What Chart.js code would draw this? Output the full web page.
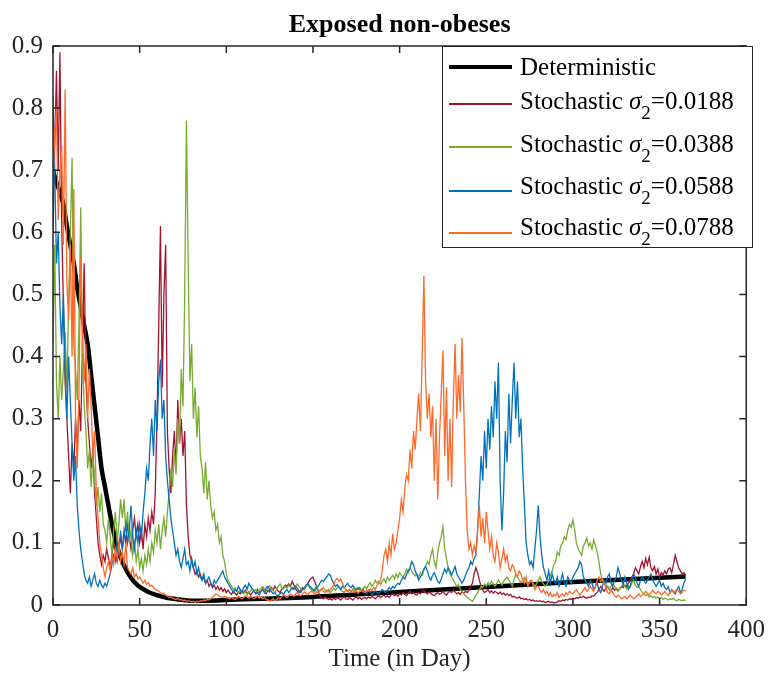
<!DOCTYPE html>
<html>
<head>
<meta charset="utf-8">
<script src="https://cdn.jsdelivr.net/npm/chart.js@4.4.1/dist/chart.umd.min.js"></script>
<style>
html,body{margin:0;padding:0;background:#fff;}
#wrap{position:relative;width:775px;height:676px;}
#c{position:absolute;left:0;top:0;}
#legend{position:absolute;left:442px;top:46px;width:309px;height:200px;border:1px solid #262626;background:#fff;font-family:"Liberation Serif","Times New Roman",serif;font-size:25px;color:#000;}
.sw{position:absolute;left:6px;width:63px;}
.lbl{position:absolute;left:77px;line-height:25px;white-space:nowrap;}
.sub{position:relative;top:10px;font-size:19px;}
</style>
</head>
<body>
<div id="wrap">
<canvas id="c" width="775" height="676"></canvas>
<div id="legend"></div>
</div>
<script>
// ---- data ----
const seriesNames = ["Deterministic", "Stochastic", "Stochastic", "Stochastic", "Stochastic"];
const sigmaValues = ["0.0188", "0.0388", "0.0588", "0.0788"];
const seriesColors = ["#000000", "#A2142F", "#77AC30", "#0072BD", "#FF6929"];

const xTicks = [0, 50, 100, 150, 200, 250, 300, 350, 400];
const yTicks = [0, 0.1, 0.2, 0.3, 0.4, 0.5, 0.6, 0.7, 0.8, 0.9];

// deterministic solution
const detDays = [0, 2, 4, 6, 8, 10, 12, 14, 16, 18, 20, 22, 24, 26, 28, 30, 32, 34, 36, 38, 40, 42, 44, 46, 48, 50, 55, 60, 65, 70, 75, 80, 90, 100, 150, 200, 250, 300, 365];
const detValues = [0.70, 0.68, 0.665, 0.645, 0.61, 0.58, 0.55, 0.51, 0.48, 0.45, 0.42, 0.37, 0.32, 0.27, 0.22, 0.19, 0.16, 0.13, 0.105, 0.085, 0.07, 0.058, 0.048, 0.04, 0.034, 0.029, 0.021, 0.016, 0.012, 0.010, 0.008, 0.007, 0.007, 0.008, 0.013, 0.021, 0.029, 0.037, 0.046];

// stochastic paths, one value per day (day 0..365)
const stochDays = Array.from({length: 366}, (_, i) => i);

const red = [
0.60, 0.74, 0.86, 0.70, 0.89, 0.62, 0.48, 0.36, 0.30, 0.24,
0.18, 0.26, 0.22, 0.30, 0.24, 0.33, 0.28, 0.42, 0.55, 0.36,
0.30, 0.26, 0.22, 0.25, 0.18, 0.14, 0.10, 0.08, 0.065, 0.08,
0.07, 0.09, 0.075, 0.06, 0.08, 0.10, 0.085, 0.07, 0.09, 0.11,
0.09, 0.12, 0.10, 0.13, 0.11, 0.09, 0.12, 0.14, 0.11, 0.13,
0.10, 0.12, 0.09, 0.13, 0.11, 0.14, 0.12, 0.15, 0.13, 0.18,
0.30, 0.45, 0.61, 0.35, 0.50, 0.58, 0.28, 0.22, 0.18, 0.24,
0.28, 0.22, 0.33, 0.26, 0.30, 0.24, 0.28, 0.16, 0.11, 0.08,
0.07, 0.06, 0.05, 0.055, 0.045, 0.05, 0.04, 0.045, 0.035, 0.04,
0.03, 0.035, 0.028, 0.032, 0.025, 0.03, 0.024, 0.028, 0.022, 0.026,
0.02, 0.024, 0.02, 0.017, 0.022, 0.019, 0.016, 0.021, 0.018, 0.023,
0.02, 0.024, 0.018, 0.021, 0.016, 0.02, 0.023, 0.018, 0.025, 0.02,
0.022, 0.026, 0.02, 0.018, 0.024, 0.021, 0.028, 0.024, 0.03, 0.026,
0.022, 0.02, 0.025, 0.028, 0.032, 0.03, 0.034, 0.03, 0.038, 0.032,
0.026, 0.022, 0.02, 0.024, 0.028, 0.025, 0.03, 0.034, 0.04, 0.043,
0.045, 0.038, 0.03, 0.022, 0.015, 0.012, 0.01, 0.013, 0.011, 0.009,
0.01, 0.008, 0.011, 0.009, 0.012, 0.01, 0.008, 0.011, 0.013, 0.01,
0.009, 0.012, 0.01, 0.008, 0.011, 0.013, 0.01, 0.012, 0.009, 0.011,
0.012, 0.01, 0.013, 0.011, 0.014, 0.012, 0.01, 0.013, 0.015, 0.012,
0.014, 0.016, 0.013, 0.015, 0.012, 0.016, 0.018, 0.015, 0.017, 0.014,
0.018, 0.016, 0.02, 0.017, 0.015, 0.019, 0.022, 0.018, 0.02, 0.017,
0.016, 0.02, 0.018, 0.022, 0.024, 0.02, 0.018, 0.021, 0.019, 0.016,
0.015, 0.018, 0.02, 0.017, 0.019, 0.022, 0.018, 0.016, 0.02, 0.022,
0.02, 0.024, 0.021, 0.018, 0.02, 0.017, 0.021, 0.019, 0.022, 0.02,
0.024, 0.03, 0.035, 0.05, 0.06, 0.052, 0.04, 0.03, 0.024, 0.02,
0.022, 0.025, 0.02, 0.023, 0.019, 0.022, 0.02, 0.018, 0.021, 0.017,
0.019, 0.016, 0.018, 0.015, 0.017, 0.013, 0.014, 0.012, 0.011, 0.013,
0.01, 0.011, 0.009, 0.01, 0.008, 0.009, 0.007, 0.008, 0.006, 0.007,
0.006, 0.007, 0.005, 0.006, 0.004, 0.005, 0.006, 0.004, 0.005, 0.003,
0.004, 0.005, 0.007, 0.006, 0.008, 0.007, 0.009, 0.008, 0.01, 0.009,
0.011, 0.01, 0.012, 0.011, 0.013, 0.012, 0.014, 0.012, 0.011, 0.013,
0.012, 0.015, 0.014, 0.018, 0.02, 0.025, 0.03, 0.026, 0.022, 0.027,
0.03, 0.025, 0.022, 0.028, 0.024, 0.027, 0.023, 0.026, 0.03, 0.028,
0.032, 0.03, 0.035, 0.04, 0.045, 0.05, 0.06, 0.055, 0.05, 0.062,
0.07, 0.06, 0.075, 0.065, 0.077, 0.06, 0.055, 0.062, 0.05, 0.058,
0.045, 0.052, 0.048, 0.055, 0.05, 0.058, 0.06, 0.052, 0.065, 0.08,
0.07, 0.06, 0.055, 0.05, 0.052, 0.048
];

const green = [
0.42, 0.58, 0.36, 0.30, 0.40, 0.33, 0.38, 0.44, 0.35, 0.48,
0.60, 0.72, 0.42, 0.38, 0.33, 0.46, 0.64, 0.40, 0.32, 0.28,
0.22, 0.25, 0.19, 0.24, 0.20, 0.16, 0.19, 0.15, 0.18, 0.13,
0.12, 0.10, 0.14, 0.11, 0.08, 0.12, 0.15, 0.10, 0.13, 0.17,
0.14, 0.17, 0.12, 0.15, 0.10, 0.12, 0.08, 0.10, 0.07, 0.09,
0.06, 0.075, 0.055, 0.08, 0.065, 0.09, 0.07, 0.10, 0.085, 0.12,
0.10, 0.13, 0.09, 0.12, 0.14, 0.11, 0.15, 0.18, 0.22, 0.19,
0.25, 0.21, 0.30, 0.26, 0.38, 0.32, 0.50, 0.78, 0.55, 0.36,
0.42, 0.30, 0.35, 0.27, 0.32, 0.24, 0.22, 0.18, 0.23, 0.17,
0.20, 0.16, 0.14, 0.15, 0.12, 0.13, 0.10, 0.11, 0.08, 0.07,
0.05, 0.04, 0.035, 0.03, 0.025, 0.028, 0.022, 0.02, 0.024, 0.021,
0.018, 0.022, 0.016, 0.02, 0.023, 0.026, 0.022, 0.025, 0.02, 0.024,
0.027, 0.03, 0.025, 0.022, 0.028, 0.031, 0.026, 0.024, 0.02, 0.025,
0.03, 0.034, 0.028, 0.026, 0.03, 0.027, 0.032, 0.029, 0.025, 0.028,
0.03, 0.034, 0.03, 0.027, 0.024, 0.026, 0.03, 0.033, 0.028, 0.025,
0.022, 0.026, 0.03, 0.025, 0.022, 0.026, 0.028, 0.024, 0.021, 0.025,
0.02, 0.023, 0.027, 0.024, 0.028, 0.03, 0.026, 0.022, 0.02, 0.024,
0.021, 0.025, 0.022, 0.026, 0.023, 0.027, 0.025, 0.028, 0.024, 0.027,
0.03, 0.026, 0.032, 0.036, 0.03, 0.034, 0.04, 0.035, 0.038, 0.033,
0.038, 0.042, 0.036, 0.045, 0.04, 0.044, 0.048, 0.042, 0.05, 0.044,
0.052, 0.048, 0.045, 0.05, 0.058, 0.052, 0.06, 0.054, 0.05, 0.047,
0.05, 0.045, 0.052, 0.048, 0.056, 0.062, 0.07, 0.065, 0.08, 0.09,
0.07, 0.06, 0.085, 0.10, 0.11, 0.126, 0.09, 0.075, 0.06, 0.05,
0.045, 0.04, 0.035, 0.03, 0.033, 0.025, 0.022, 0.018, 0.015, 0.012,
0.01, 0.008, 0.006, 0.01, 0.015, 0.02, 0.025, 0.03, 0.028, 0.034,
0.03, 0.036, 0.032, 0.038, 0.034, 0.03, 0.035, 0.04, 0.036, 0.032,
0.038, 0.042, 0.045, 0.04, 0.035, 0.03, 0.04, 0.05, 0.045, 0.04,
0.036, 0.04, 0.044, 0.038, 0.033, 0.036, 0.04, 0.035, 0.03, 0.034,
0.04, 0.045, 0.038, 0.034, 0.03, 0.033, 0.04, 0.048, 0.055, 0.065,
0.07, 0.085, 0.08, 0.095, 0.10, 0.11, 0.105, 0.12, 0.13, 0.125,
0.137, 0.12, 0.10, 0.09, 0.085, 0.08, 0.095, 0.10, 0.108, 0.095,
0.10, 0.09, 0.105, 0.095, 0.085, 0.07, 0.05, 0.04, 0.035, 0.032,
0.03, 0.026, 0.03, 0.035, 0.03, 0.025, 0.022, 0.027, 0.03, 0.034,
0.03, 0.026, 0.032, 0.028, 0.035, 0.04, 0.032, 0.028, 0.03, 0.025,
0.02, 0.018, 0.015, 0.017, 0.013, 0.015, 0.012, 0.014, 0.011, 0.013,
0.01, 0.012, 0.009, 0.011, 0.01, 0.008, 0.01, 0.009, 0.011, 0.008,
0.007, 0.009, 0.008, 0.007, 0.008, 0.007
];

const blue = [
0.82, 0.70, 0.55, 0.60, 0.48, 0.42, 0.50, 0.38, 0.30, 0.40,
0.33, 0.26, 0.20, 0.24, 0.16, 0.12, 0.09, 0.07, 0.05, 0.04,
0.035, 0.045, 0.03, 0.04, 0.05, 0.035, 0.03, 0.04, 0.032, 0.028,
0.035, 0.03, 0.04, 0.05, 0.065, 0.08, 0.07, 0.10, 0.085, 0.12,
0.09, 0.11, 0.13, 0.10, 0.12, 0.16, 0.11, 0.09, 0.12, 0.10,
0.13, 0.11, 0.15, 0.18, 0.22, 0.20, 0.26, 0.30, 0.24, 0.33,
0.28, 0.36, 0.395, 0.30, 0.33, 0.24, 0.20, 0.17, 0.14, 0.12,
0.10, 0.08, 0.09, 0.07, 0.06, 0.075, 0.09, 0.065, 0.07, 0.055,
0.075, 0.06, 0.07, 0.05, 0.06, 0.045, 0.04, 0.05, 0.035, 0.04,
0.045, 0.035, 0.03, 0.04, 0.035, 0.04, 0.045, 0.05, 0.055, 0.045,
0.04, 0.035, 0.03, 0.025, 0.02, 0.025, 0.022, 0.03, 0.025, 0.02,
0.028, 0.032, 0.025, 0.035, 0.03, 0.026, 0.022, 0.018, 0.02, 0.016,
0.022, 0.025, 0.02, 0.028, 0.03, 0.025, 0.022, 0.018, 0.02, 0.016,
0.015, 0.018, 0.02, 0.017, 0.022, 0.025, 0.02, 0.024, 0.028, 0.025,
0.03, 0.027, 0.022, 0.02, 0.025, 0.028, 0.032, 0.035, 0.03, 0.028,
0.025, 0.022, 0.028, 0.03, 0.035, 0.04, 0.038, 0.042, 0.045, 0.05,
0.048, 0.04, 0.035, 0.03, 0.033, 0.028, 0.025, 0.03, 0.027, 0.032,
0.035, 0.03, 0.028, 0.032, 0.027, 0.024, 0.028, 0.025, 0.022, 0.025,
0.02, 0.018, 0.024, 0.02, 0.017, 0.02, 0.023, 0.02, 0.018, 0.022,
0.025, 0.022, 0.02, 0.024, 0.028, 0.025, 0.03, 0.027, 0.032, 0.035,
0.033, 0.04, 0.045, 0.042, 0.05, 0.055, 0.06, 0.07, 0.065, 0.055,
0.048, 0.04, 0.045, 0.05, 0.058, 0.062, 0.055, 0.045, 0.04, 0.048,
0.052, 0.045, 0.038, 0.035, 0.042, 0.05, 0.058, 0.052, 0.06, 0.055,
0.048, 0.055, 0.062, 0.05, 0.045, 0.04, 0.035, 0.04, 0.048, 0.055,
0.06, 0.07, 0.065, 0.075, 0.08, 0.12, 0.18, 0.24, 0.20, 0.28,
0.22, 0.30, 0.25, 0.32, 0.27, 0.36, 0.30, 0.39, 0.20, 0.12,
0.18, 0.28, 0.23, 0.34, 0.26, 0.33, 0.39, 0.30, 0.36, 0.27,
0.30, 0.22, 0.16, 0.10, 0.08, 0.065, 0.07, 0.06, 0.09, 0.12,
0.16, 0.11, 0.08, 0.06, 0.05, 0.04, 0.055, 0.035, 0.05, 0.04,
0.035, 0.045, 0.03, 0.04, 0.05, 0.035, 0.03, 0.045, 0.04, 0.035,
0.045, 0.05, 0.055, 0.06, 0.07, 0.065, 0.045, 0.04, 0.035, 0.03,
0.04, 0.035, 0.025, 0.03, 0.035, 0.025, 0.02, 0.03, 0.04, 0.035,
0.045, 0.05, 0.035, 0.03, 0.04, 0.045, 0.06, 0.05, 0.04, 0.032,
0.045, 0.035, 0.025, 0.03, 0.04, 0.05, 0.045, 0.035, 0.03, 0.04,
0.045, 0.04, 0.035, 0.04, 0.045, 0.05, 0.04, 0.035, 0.03, 0.035,
0.04, 0.03, 0.035, 0.028, 0.025, 0.03, 0.02, 0.025, 0.022, 0.018,
0.025, 0.03, 0.02, 0.025, 0.035, 0.042
];

const orange = [
0.68, 0.76, 0.80, 0.62, 0.70, 0.74, 0.58, 0.83, 0.52, 0.46,
0.58, 0.40, 0.67, 0.30, 0.22, 0.35, 0.56, 0.44, 0.36, 0.42,
0.30, 0.38, 0.32, 0.24, 0.28, 0.18, 0.14, 0.10, 0.08, 0.06,
0.045, 0.06, 0.07, 0.055, 0.08, 0.065, 0.09, 0.075, 0.10, 0.07,
0.085, 0.065, 0.10, 0.06, 0.055, 0.05, 0.06, 0.045, 0.05, 0.042,
0.045, 0.04, 0.035, 0.04, 0.033, 0.036, 0.03, 0.032, 0.028, 0.025,
0.024, 0.022, 0.02, 0.018, 0.019, 0.016, 0.014, 0.012, 0.013, 0.011,
0.01, 0.009, 0.011, 0.008, 0.009, 0.007, 0.008, 0.006, 0.007, 0.006,
0.005, 0.006, 0.004, 0.006, 0.005, 0.007, 0.006, 0.008, 0.007, 0.009,
0.008, 0.01, 0.012, 0.015, 0.018, 0.016, 0.014, 0.013, 0.012, 0.014,
0.013, 0.011, 0.01, 0.012, 0.01, 0.009, 0.011, 0.014, 0.012, 0.01,
0.012, 0.015, 0.013, 0.011, 0.014, 0.012, 0.01, 0.012, 0.015, 0.011,
0.013, 0.01, 0.012, 0.009, 0.008, 0.006, 0.008, 0.01, 0.007, 0.009,
0.012, 0.01, 0.013, 0.016, 0.014, 0.012, 0.015, 0.018, 0.016, 0.014,
0.018, 0.02, 0.017, 0.015, 0.018, 0.021, 0.019, 0.016, 0.02, 0.022,
0.02, 0.018, 0.021, 0.019, 0.023, 0.026, 0.022, 0.02, 0.024, 0.021,
0.025, 0.028, 0.032, 0.04, 0.043, 0.038, 0.042, 0.035, 0.028, 0.025,
0.022, 0.025, 0.021, 0.024, 0.02, 0.023, 0.019, 0.022, 0.025, 0.021,
0.02, 0.024, 0.022, 0.026, 0.023, 0.028, 0.025, 0.032, 0.035, 0.04,
0.056, 0.08, 0.09, 0.07, 0.10, 0.08, 0.115, 0.09, 0.10, 0.12,
0.14, 0.17, 0.15, 0.19, 0.21, 0.20, 0.25, 0.22, 0.28, 0.25,
0.30, 0.34, 0.28, 0.40, 0.53, 0.36, 0.30, 0.34, 0.27, 0.32,
0.20, 0.30, 0.17, 0.27, 0.34, 0.41, 0.24, 0.35, 0.20, 0.30,
0.19, 0.33, 0.42, 0.30, 0.37, 0.31, 0.43, 0.32, 0.20, 0.12,
0.09, 0.10, 0.08, 0.095, 0.085, 0.12, 0.16, 0.11, 0.14, 0.10,
0.15, 0.12, 0.09, 0.11, 0.08, 0.07, 0.10, 0.085, 0.06, 0.075,
0.09, 0.07, 0.08, 0.06, 0.055, 0.065, 0.06, 0.05, 0.045, 0.055,
0.05, 0.04, 0.035, 0.045, 0.03, 0.038, 0.04, 0.032, 0.025, 0.03,
0.03, 0.024, 0.02, 0.025, 0.018, 0.022, 0.015, 0.02, 0.013, 0.017,
0.015, 0.02, 0.012, 0.016, 0.018, 0.014, 0.02, 0.017, 0.022, 0.019,
0.018, 0.022, 0.025, 0.02, 0.016, 0.02, 0.024, 0.028, 0.022, 0.025,
0.03, 0.026, 0.022, 0.03, 0.04, 0.045, 0.038, 0.042, 0.035, 0.028,
0.02, 0.018, 0.024, 0.02, 0.015, 0.012, 0.016, 0.013, 0.01, 0.012,
0.014, 0.01, 0.012, 0.016, 0.013, 0.01, 0.012, 0.015, 0.018, 0.014,
0.016, 0.018, 0.022, 0.019, 0.016, 0.02, 0.024, 0.02, 0.018, 0.022,
0.02, 0.016, 0.019, 0.022, 0.018, 0.015, 0.02, 0.024, 0.02, 0.022,
0.025, 0.022, 0.018, 0.02, 0.024, 0.022
];

// ---- chart ----
const toXY = (xs, ys) => xs.map((x, i) => ({x: x, y: ys[i]}));
const stochSeries = [red, green, blue, orange];

const datasets = [{
  label: seriesNames[0],
  data: toXY(detDays, detValues),
  borderColor: seriesColors[0],
  borderWidth: 4.5,
  pointRadius: 0,
  tension: 0.3,
  order: 5
}];
stochSeries.forEach((vals, i) => {
  datasets.push({
    label: seriesNames[i + 1] + ' σ2=' + sigmaValues[i],
    data: toXY(stochDays, vals),
    borderColor: seriesColors[i + 1],
    borderWidth: 1.3,
    pointRadius: 0,
    tension: 0,
    order: 4 - i
  });
});

const FONT = '"Liberation Serif", "Times New Roman", serif';
const AXC = '#262626';

const boxPlugin = {
  id: 'matlabBox',
  afterDatasetsDraw(chart) {
    const {ctx, chartArea: a, scales: {x, y}} = chart;
    ctx.save();
    ctx.strokeStyle = AXC;
    ctx.lineWidth = 1.5;
    ctx.strokeRect(a.left, a.top, a.right - a.left, a.bottom - a.top);
    const L = 7;
    ctx.beginPath();
    xTicks.forEach(v => {
      const px = x.getPixelForValue(v);
      ctx.moveTo(px, a.bottom); ctx.lineTo(px, a.bottom - L);
      ctx.moveTo(px, a.top); ctx.lineTo(px, a.top + L);
    });
    yTicks.forEach(v => {
      const py = y.getPixelForValue(v);
      ctx.moveTo(a.left, py); ctx.lineTo(a.left + L, py);
      ctx.moveTo(a.right, py); ctx.lineTo(a.right - L, py);
    });
    ctx.stroke();
    ctx.restore();
  }
};

new Chart(document.getElementById('c'), {
  type: 'line',
  data: {datasets: datasets},
  options: {
    responsive: false,
    animation: false,
    layout: {padding: {left: 0, right: 21, top: 0, bottom: 0}},
    plugins: {
      legend: {display: false},
      tooltip: {enabled: false},
      title: {
        display: true,
        text: 'Exposed non-obeses',
        fullSize: false,
        color: '#000',
        font: {family: FONT, size: 26, weight: 'bold'},
        padding: {top: 10, bottom: 4.8}
      }
    },
    scales: {
      x: {
        type: 'linear',
        min: 0, max: 400,
        afterFit: s => { s.height = 71; },
        afterBuildTicks: s => { s.ticks = xTicks.map(v => ({value: v})); },
        grid: {display: false, drawTicks: false},
        border: {display: false},
        ticks: {color: AXC, font: {family: FONT, size: 25}, padding: 10, maxRotation: 0,
                callback: v => String(v)},
        title: {display: true, text: 'Time (in Day)', color: AXC,
                font: {family: FONT, size: 25}, padding: {top: 0, bottom: 1.5}}
      },
      y: {
        type: 'linear',
        min: 0, max: 0.9,
        afterFit: s => { s.width = 53; },
        afterBuildTicks: s => { s.ticks = yTicks.map(v => ({value: v})); },
        grid: {display: false, drawTicks: false},
        border: {display: false},
        ticks: {color: AXC, font: {family: FONT, size: 25}, padding: 10,
                callback: v => (v === 0 ? '0' : v.toFixed(1))}
      }
    }
  },
  plugins: [boxPlugin]
});

// ---- legend (HTML, MATLAB style) ----
const legend = document.getElementById('legend');
const lineY = [18, 56, 99, 143, 185];
const textTop = [7, 41, 84, 126, 167];
seriesNames.forEach((name, i) => {
  const sw = document.createElement('div');
  sw.className = 'sw';
  const h = i === 0 ? 4.5 : 1.5;
  sw.style.top = (lineY[i] - (i === 0 ? 0.5 : 0)) + 'px';
  sw.style.height = h + 'px';
  sw.style.background = seriesColors[i];
  legend.appendChild(sw);
  const lb = document.createElement('div');
  lb.className = 'lbl';
  lb.style.top = textTop[i] + 'px';
  if (i === 0) {
    lb.textContent = name;
  } else {
    lb.innerHTML = name + ' <i>σ</i><span class="sub">2</span>=' + sigmaValues[i - 1];
  }
  legend.appendChild(lb);
});
</script>
</body>
</html>
